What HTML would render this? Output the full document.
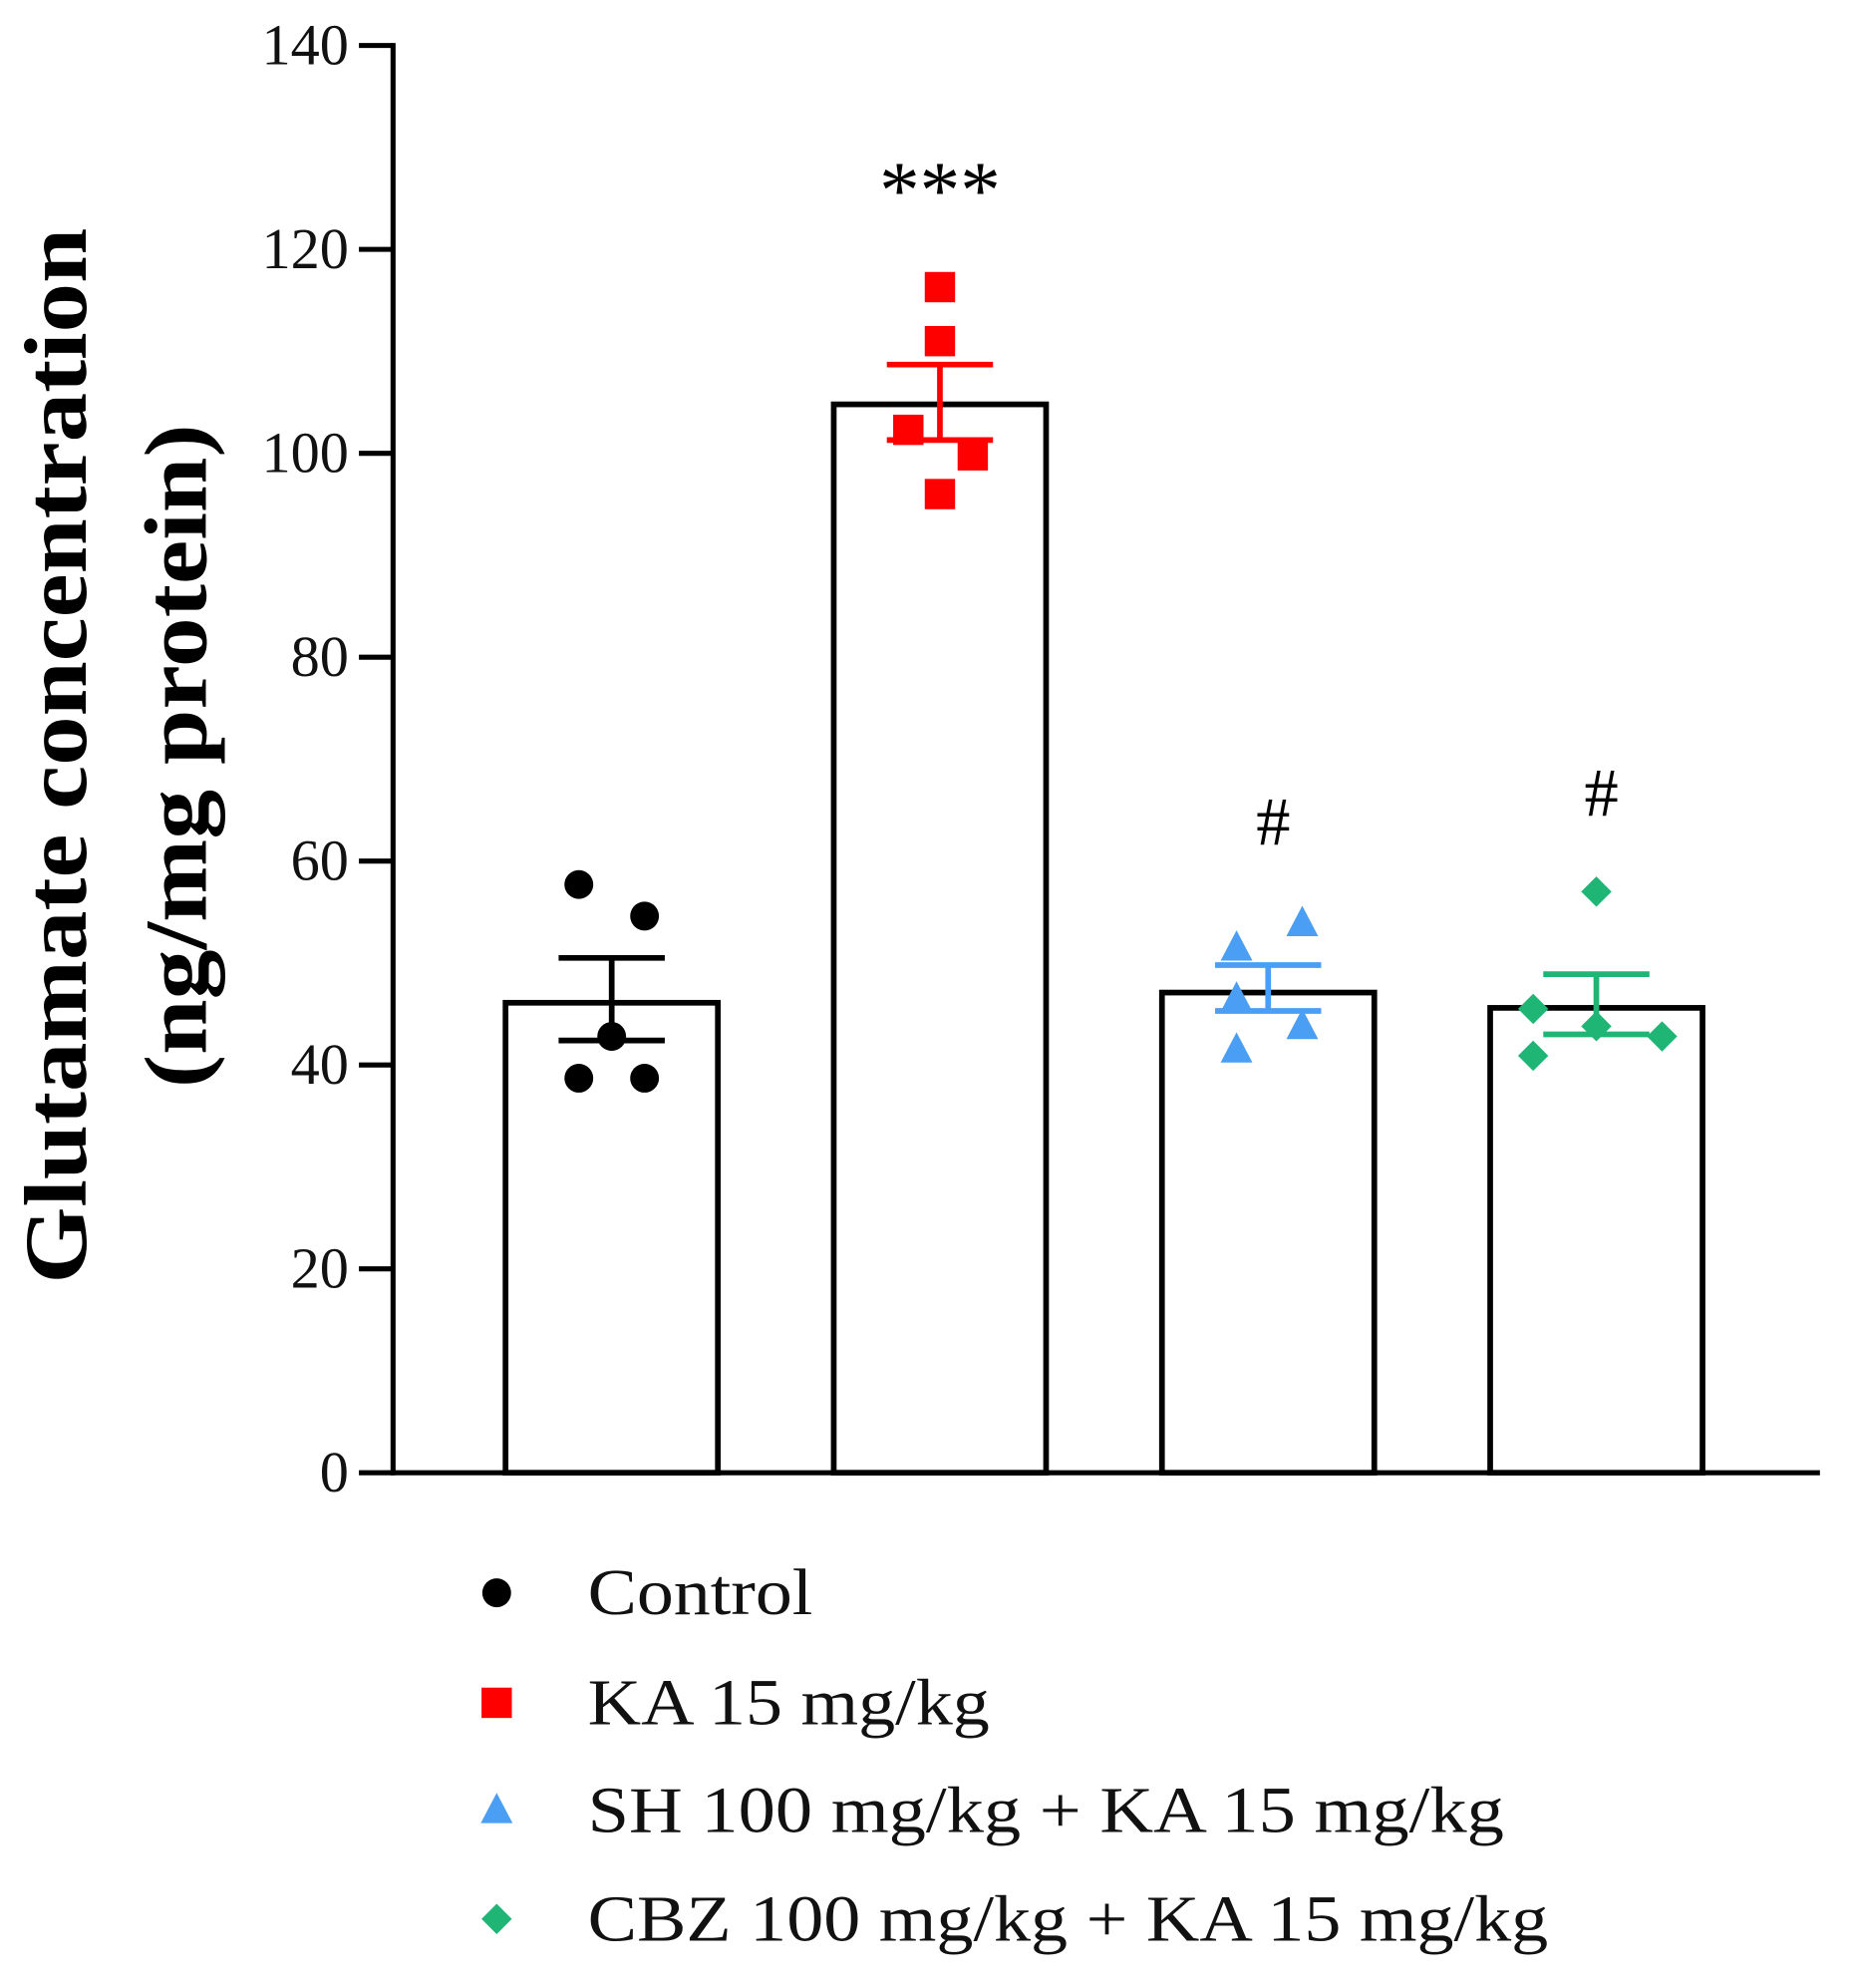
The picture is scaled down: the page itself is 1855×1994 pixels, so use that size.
<!DOCTYPE html>
<html><head><meta charset="utf-8"><style>
html,body{margin:0;padding:0;background:#fff;}
svg{display:block;}
text{font-family:"Liberation Serif",serif;}
</style></head><body>
<svg id="chart" width="1855" height="1994" viewBox="0 0 1463 1572.6" preserveAspectRatio="none" xmlns="http://www.w3.org/2000/svg">
<g id="axes"></g>
<g id="bars"></g>
<g id="points"></g>
<g id="legend"></g>
<text transform="translate(68,598) rotate(-90)" text-anchor="middle" font-size="70" font-weight="bold" textLength="835" lengthAdjust="spacingAndGlyphs">Glutamate concentration</text>
<text transform="translate(163,598) rotate(-90)" text-anchor="middle" font-size="70" font-weight="bold" textLength="525" lengthAdjust="spacingAndGlyphs">(ng/mg protein)</text>
</svg>
<script>
const categories = ["Control", "KA 15 mg/kg", "SH 100 mg/kg + KA 15 mg/kg", "CBZ 100 mg/kg + KA 15 mg/kg"];
const means = [46.1, 104.8, 47.1, 45.6];
const errHigh = [50.5, 108.7, 49.8, 48.9];
const errLow = [42.4, 101.3, 45.3, 43.0];
const pointsControl = [57.7, 54.6, 42.8, 38.7, 38.7];
const pointsKA = [116.3, 111.0, 102.3, 99.8, 96.0];
const pointsSH = [51.5, 53.9, 46.5, 43.8, 41.5];
const pointsCBZ = [57.0, 45.5, 43.8, 42.8, 40.9];
const pointOffsets = [[-26, 26, 0, -26, 26], [0, 0, -25, 26, 0], [-25, 27, -25, 27, -25], [0, -50, 0, 52, -50]];
const annotations = ["", "***", "#", "#"];
const yTicks = [0, 20, 40, 60, 80, 100, 120, 140];
const colors = ["#000000", "#ff0000", "#4a9ff5", "#1fb574"];
const shapes = ["circle", "square", "triangle", "diamond"];

const NS = "http://www.w3.org/2000/svg";
const X0 = 311, Y0 = 1165, YT = 36, YMAX = 140;
const y = v => Y0 - (v / YMAX) * (Y0 - YT);
const xc = i => 484 + i * 259.7;
const BW = 168;
function mk(tag, attrs, parent) { const e = document.createElementNS(NS, tag); for (const k in attrs) e.setAttribute(k, attrs[k]); parent.appendChild(e); return e; }
function marker(shape, cx, cy, color, s, parent) {
  let e;
  if (shape === "circle") e = mk("circle", {cx, cy, r: s * 0.95, fill: color}, parent);
  else if (shape === "square") e = mk("rect", {x: cx - s, y: cy - s, width: 2 * s, height: 2 * s, fill: color}, parent);
  else if (shape === "triangle") e = mk("polygon", {points: `${cx},${cy - s * 1.15} ${cx - s * 1.05},${cy + s * 0.85} ${cx + s * 1.05},${cy + s * 0.85}`, fill: color}, parent);
  else e = mk("polygon", {points: `${cx},${cy - s} ${cx + s},${cy} ${cx},${cy + s} ${cx - s},${cy}`, fill: color}, parent);
  return e;
}
const axes = document.getElementById("axes");
const yAxis = mk("line", {x1: X0, y1: YT - 2, x2: X0, y2: Y0 + 2, stroke: "#000", "stroke-width": 4}, axes);


const xAxis = mk("line", {x1: X0 - 2, y1: Y0, x2: 1440, y2: Y0, stroke: "#000", "stroke-width": 4}, axes);


yTicks.forEach(t => {
  const tk = mk("line", {x1: 284, y1: y(t), x2: X0, y2: y(t), stroke: "#000", "stroke-width": 4}, axes);
  
  
  const lb = mk("text", {x: 276, y: y(t) + 15, "text-anchor": "end", "font-size": 46, fill: "#111"}, axes);
  lb.textContent = t;
  
  
});
const bars = document.getElementById("bars");
const pts = document.getElementById("points");
const allPoints = [pointsControl, pointsKA, pointsSH, pointsCBZ];
categories.forEach((c, i) => {
  const b = mk("rect", {x: xc(i) - BW / 2, y: y(means[i]), width: BW, height: Y0 - y(means[i]), fill: "#fff", stroke: "#000", "stroke-width": 4.5}, bars);
  
  
  allPoints[i].forEach((v, j) => {
    const m = marker(shapes[i], xc(i) + pointOffsets[i][j], y(v), colors[i], 12, pts);
    
    
  });
  const eg = mk("g", {stroke: colors[i], "stroke-width": 4.5}, pts);
  
  
  mk("line", {x1: xc(i), y1: y(errHigh[i]), x2: xc(i), y2: y(errLow[i])}, eg);
  mk("line", {x1: xc(i) - 42, y1: y(errHigh[i]), x2: xc(i) + 42, y2: y(errHigh[i])}, eg);
  mk("line", {x1: xc(i) - 42, y1: y(errLow[i]), x2: xc(i) + 42, y2: y(errLow[i])}, eg);
  if (annotations[i]) {
    const a = mk("text", {x: xc(i) + (i === 1 ? 0 : 4), y: (i === 1 ? 172 : (i === 2 ? 668 : 645)), "text-anchor": "middle", "font-size": i === 1 ? 64 : 54, fill: "#000"}, pts);
    a.textContent = annotations[i];
    
    
  }
});
const legend = document.getElementById("legend");
const legY = [1260, 1347, 1432, 1518];
const legW = [178, 318, 725, 760];
categories.forEach((c, i) => {
  const m = marker(shapes[i], 393, legY[i], colors[i], 12, legend);
  
  
  const t = mk("text", {x: 465, y: legY[i] + 17, "font-size": 52, fill: "#111", textLength: legW[i], lengthAdjust: "spacingAndGlyphs"}, legend);
  t.textContent = c;
  
  
});
</script>
</body></html>
